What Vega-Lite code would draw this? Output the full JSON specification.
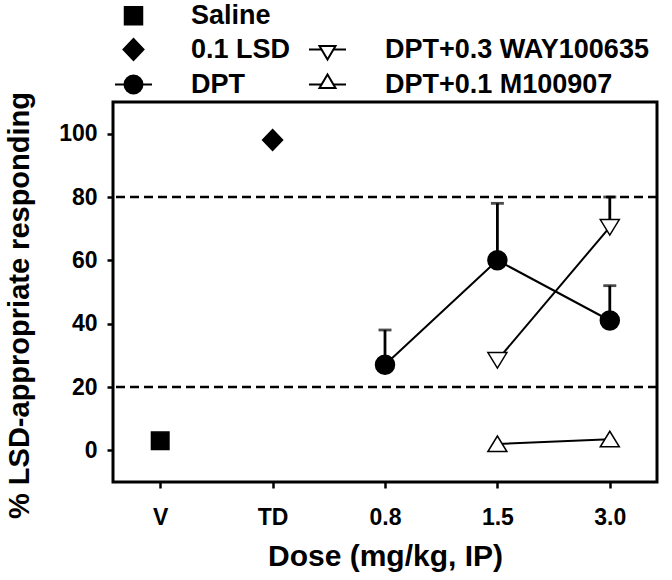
{
  "$schema": "https://vega.github.io/schema/vega-lite/v6.json",
  "width": 544,
  "height": 380,
  "autosize": {"type": "none"},
  "padding": {"left": 113, "top": 102, "right": 15, "bottom": 98},
  "background": "white",
  "config": {
    "view": {"stroke": "black", "strokeWidth": 3},
    "font": "Liberation Sans",
    "axis": {
      "grid": false,
      "domain": false,
      "tickColor": "black",
      "tickWidth": 2.5,
      "tickSize": 6,
      "labelFont": "Liberation Sans",
      "labelFontWeight": "bold",
      "labelFontSize": 23,
      "labelColor": "black",
      "titleFont": "Liberation Sans",
      "titleFontWeight": "bold",
      "titleFontSize": 30,
      "titleColor": "black"
    }
  },
  "data": {
    "values": [
      {"series": "Saline", "dose": "V", "pct": 3, "err": null},
      {"series": "0.1 LSD", "dose": "TD", "pct": 98, "err": null},
      {"series": "DPT", "dose": "0.8", "pct": 27, "err": 38},
      {"series": "DPT", "dose": "1.5", "pct": 60, "err": 78},
      {"series": "DPT", "dose": "3.0", "pct": 41, "err": 52},
      {"series": "DPT+0.3 WAY100635", "dose": "1.5", "pct": 28.5, "err": null},
      {"series": "DPT+0.3 WAY100635", "dose": "3.0", "pct": 70.5, "err": 80},
      {"series": "DPT+0.1 M100907", "dose": "1.5", "pct": 2, "err": null},
      {"series": "DPT+0.1 M100907", "dose": "3.0", "pct": 3.5, "err": null}
    ]
  },
  "encoding": {
    "x": {
      "field": "dose",
      "type": "nominal",
      "scale": {"type": "point", "domain": ["V", "TD", "0.8", "1.5", "3.0"], "padding": 0.42},
      "axis": {"title": "Dose (mg/kg, IP)", "labelAngle": 0, "labelPadding": 18, "titlePadding": 12}
    },
    "y": {
      "field": "pct",
      "type": "quantitative",
      "scale": {"domain": [-10, 110], "nice": false, "zero": false},
      "axis": {"title": "% LSD-appropriate responding", "values": [0, 20, 40, 60, 80, 100], "labelPadding": 10, "titleX": -79, "titleY": 203, "titleFontSize": 29}
    }
  },
  "layer": [
    {
      "data": {"values": [{"ref": 20}, {"ref": 80}]},
      "mark": {"type": "rule", "color": "black", "strokeWidth": 2.5, "strokeDash": [9, 5]},
      "encoding": {"x": null, "y": {"field": "ref", "type": "quantitative"}}
    },
    {
      "mark": {"type": "line", "color": "black", "strokeWidth": 2},
      "encoding": {"detail": {"field": "series"}}
    },
    {
      "transform": [{"filter": "isValid(datum.err)"}],
      "mark": {"type": "rule", "color": "black", "strokeWidth": 2.8},
      "encoding": {"y2": {"field": "err"}}
    },
    {
      "transform": [{"filter": "isValid(datum.err)"}],
      "mark": {"type": "tick", "color": "black", "thickness": 2.8, "size": 13},
      "encoding": {"y": {"field": "err", "type": "quantitative"}}
    },
    {
      "mark": {"type": "point", "filled": true, "size": 400, "stroke": "black", "strokeWidth": 1.5, "opacity": 1},
      "encoding": {
        "shape": {
          "field": "series", "type": "nominal", "legend": null,
          "scale": {
            "domain": ["Saline", "0.1 LSD", "DPT", "DPT+0.3 WAY100635", "DPT+0.1 M100907"],
            "range": [
              "M-0.875,-0.875H0.875V0.875H-0.875Z",
              "M0,-1.05L1.0,0L0,1.05L-1.0,0Z",
              "M-0.95,0A0.95,0.95 0 1,0 0.95,0A0.95,0.95 0 1,0 -0.95,0Z",
              "M-0.95,-0.75L0.95,-0.75L0,0.8Z",
              "M-0.95,0.75L0.95,0.75L0,-0.8Z"
            ]
          }
        },
        "fill": {
          "field": "series", "type": "nominal", "legend": null,
          "scale": {
            "domain": ["Saline", "0.1 LSD", "DPT", "DPT+0.3 WAY100635", "DPT+0.1 M100907"],
            "range": ["black", "black", "black", "white", "white"]
          }
        }
      }
    },
    {
      "mark": {"type": "point", "filled": true, "opacity": 0},
      "encoding": {
        "shape": {
          "field": "series", "type": "nominal",
          "scale": {
            "domain": ["Saline", "0.1 LSD", "DPT", " ", "DPT+0.3 WAY100635", "DPT+0.1 M100907"],
            "range": [
              "M-0.875,-0.875H0.875V0.875H-0.875Z",
              "M0,-1.05L1.0,0L0,1.05L-1.0,0Z",
              "M-1.85,0H-0.9M0.9,0H1.85M-0.9,0A0.9,0.9 0 1,0 0.9,0A0.9,0.9 0 1,0 -0.9,0Z",
              "M0,0",
              "M-1.85,0H-0.6M0.6,0H1.85M-0.8,-0.35L0.8,-0.35L0,1.0Z",
              "M-1.85,0H-0.6M0.6,0H1.85M-0.8,0.35L0.8,0.35L0,-1.0Z"
            ]
          },
          "legend": {
            "orient": "none",
            "legendX": 7,
            "legendY": -100,
            "columns": 2,
            "columnPadding": 14,
            "rowPadding": 6,
            "title": null,
            "symbolSize": 400,
            "symbolStrokeWidth": 2,
            "symbolOpacity": 1,
            "labelFont": "Liberation Sans",
            "labelFontWeight": "bold",
            "labelFontSize": 27,
            "labelColor": "black",
            "labelOffset": 44,
            "labelLimit": 400
          }
        },
        "fill": {
          "field": "series", "type": "nominal",
          "scale": {
            "domain": ["Saline", "0.1 LSD", "DPT", " ", "DPT+0.3 WAY100635", "DPT+0.1 M100907"],
            "range": ["black", "black", "black", "transparent", "white", "white"]
          }
        },
        "stroke": {
          "field": "series", "type": "nominal",
          "scale": {
            "domain": ["Saline", "0.1 LSD", "DPT", " ", "DPT+0.3 WAY100635", "DPT+0.1 M100907"],
            "range": ["black", "black", "black", "transparent", "black", "black"]
          }
        }
      }
    }
  ],
  "resolve": {"scale": {"shape": "independent", "fill": "independent", "stroke": "independent"}}
}
